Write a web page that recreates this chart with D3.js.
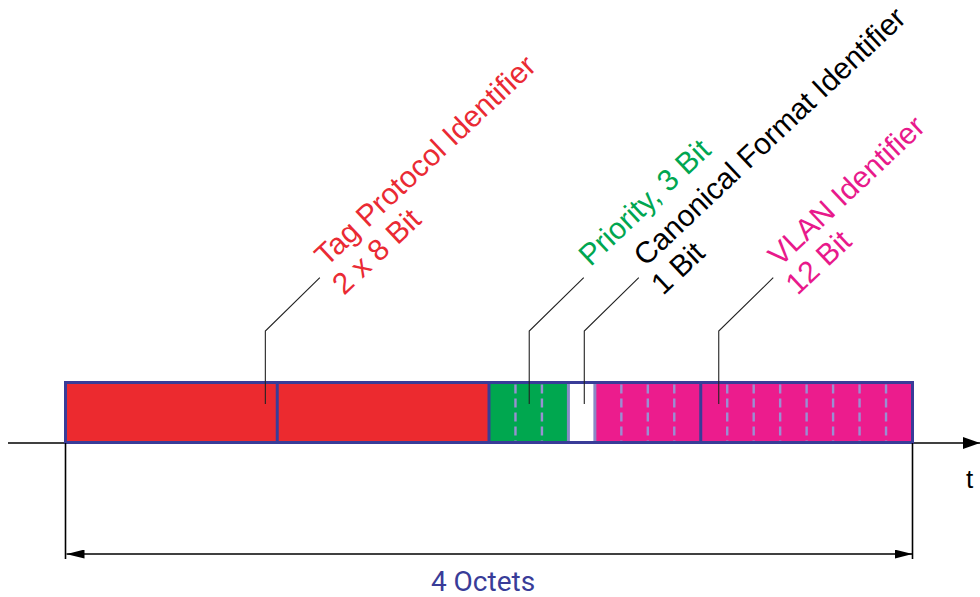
<!DOCTYPE html>
<html>
<head>
<meta charset="utf-8">
<script src="https://cdn.jsdelivr.net/npm/d3@7"></script>
<style>
  body { margin: 0; background: #fff; }
  svg { display: block; font-family: "Liberation Sans", Arial, Helvetica, sans-serif; }
</style>
</head>
<body>
<svg width="980" height="597"></svg>
<script>
// fields of the 802.1Q tag, in bits
const fieldNames = ["TPID", "Priority", "CFI", "VLAN ID"];
const fieldStart = [0, 16, 19, 20];
const fieldBits = [16, 3, 1, 12];
const fieldColors = ["#ec2a2f", "#00a74f", "#ffffff", "#ec1c8d"];

// bit boundaries drawn as solid dividers
const octetDividers = [8, 16, 24];
const fieldDividers = [19, 20];
// bit boundaries drawn as dashed lines
const bitTicks = [17, 18, 21, 22, 23, 25, 26, 27, 28, 29, 30, 31];

// callout labels
const labelLine1 = ["Tag Protocol Identifier", "Priority, 3 Bit", "Canonical Format Identifier", "VLAN Identifier"];
const labelLine2 = ["2 x 8 Bit", "", "1 Bit", "12 Bit"];
const labelColors = ["#ea2a33", "#00a651", "#000000", "#e8198b"];
const leaderBits = [7.55, 17.52, 19.6, 24.68];

const totalBits = 32;
const widthLabel = "4 Octets";

const svg = d3.select("svg");
const blue = "#393c98";

const x = d3.scaleLinear().domain([0, totalBits]).range([65.5, 912.5]);
const barTop = 382.5, barBottom = 442.5, axisY = 443;

// arrow markers
const defs = svg.append("defs");
function marker(id, len, half) {
    defs.append("marker")
        .attr("id", id)
        .attr("viewBox", `0 ${-half} ${len} ${2 * half}`)
        .attr("refX", len).attr("refY", 0)
        .attr("markerWidth", len).attr("markerHeight", 2 * half)
        .attr("markerUnits", "userSpaceOnUse")
        .attr("orient", "auto-start-reverse")
        .append("path")
        .attr("d", `M0,${-half}L${len},0L0,${half}Z`)
        .attr("fill", "#000");
}
marker("axisArrow", 17, 6);
marker("dimArrow", 18, 4.5);

// time axis
svg.append("line")
    .attr("x1", 8).attr("x2", 980)
    .attr("y1", axisY).attr("y2", axisY)
    .attr("stroke", "#000").attr("stroke-width", 1.6)
    .attr("marker-end", "url(#axisArrow)");

svg.append("text")
    .attr("x", 966).attr("y", 488)
    .attr("font-size", 26)
    .text("t");

// field blocks
svg.selectAll("rect.field")
    .data(fieldNames)
    .join("rect")
    .attr("class", "field")
    .attr("x", (d, i) => x(fieldStart[i]))
    .attr("y", barTop)
    .attr("width", (d, i) => x(fieldStart[i] + fieldBits[i]) - x(fieldStart[i]))
    .attr("height", barBottom - barTop)
    .attr("fill", (d, i) => fieldColors[i]);

// dashed bit boundaries
svg.selectAll("line.bit")
    .data(bitTicks)
    .join("line")
    .attr("class", "bit")
    .attr("x1", d => x(d)).attr("x2", d => x(d))
    .attr("y1", barTop + 2).attr("y2", barBottom - 1.5)
    .attr("stroke", "#9a8fd2")
    .attr("stroke-width", 2.4)
    .attr("stroke-dasharray", "9,5");

// light dividers round the CFI bit
svg.selectAll("line.fdiv")
    .data(fieldDividers)
    .join("line")
    .attr("class", "fdiv")
    .attr("x1", d => x(d)).attr("x2", d => x(d))
    .attr("y1", barTop).attr("y2", barBottom)
    .attr("stroke", "#8a89c6")
    .attr("stroke-width", 3);

// octet dividers
svg.selectAll("line.odiv")
    .data(octetDividers)
    .join("line")
    .attr("class", "odiv")
    .attr("x1", d => x(d)).attr("x2", d => x(d))
    .attr("y1", barTop).attr("y2", barBottom)
    .attr("stroke", blue)
    .attr("stroke-width", 3);

// outline
svg.append("rect")
    .attr("x", x(0)).attr("y", barTop)
    .attr("width", x(totalBits) - x(0))
    .attr("height", barBottom - barTop)
    .attr("fill", "none")
    .attr("stroke", blue)
    .attr("stroke-width", 3);

// leaders and labels
const leaderBottom = 404, leaderKnee = 331, leaderDx = 54.5, leaderTop = 277.7;
const angle = -43.3;

leaderBits.forEach((b, i) => {
    const lx = x(b);
    svg.append("path")
        .attr("d", `M${lx},${leaderBottom}V${leaderKnee}L${lx + leaderDx},${leaderTop}`)
        .attr("fill", "none")
        .attr("stroke", "#222")
        .attr("stroke-width", 1.1);

    const g = svg.append("g")
        .attr("transform", `translate(${lx + leaderDx},${leaderTop}) rotate(${angle})`)
        .attr("fill", labelColors[i])
        .attr("font-size", 30);
    g.append("text").attr("x", 12).attr("y", -3).text(labelLine1[i]);
    if (labelLine2[i]) g.append("text").attr("x", 5).attr("y", 30).text(labelLine2[i]);
});

// width dimension
const dimY = 554;
svg.selectAll("line.ext")
    .data([0, totalBits])
    .join("line")
    .attr("class", "ext")
    .attr("x1", d => x(d)).attr("x2", d => x(d))
    .attr("y1", axisY).attr("y2", 559)
    .attr("stroke", "#000").attr("stroke-width", 1.6);

svg.append("line")
    .attr("x1", x(0) + 1).attr("x2", x(totalBits))
    .attr("y1", dimY).attr("y2", dimY)
    .attr("stroke", "#000").attr("stroke-width", 1.6)
    .attr("marker-start", "url(#dimArrow)")
    .attr("marker-end", "url(#dimArrow)");

svg.append("text")
    .attr("x", 483).attr("y", 591)
    .attr("text-anchor", "middle")
    .attr("font-family", "Roboto, 'Liberation Sans', Arial, sans-serif")
    .attr("font-size", 28)
    .attr("fill", blue)
    .text(widthLabel);
</script>
</body>
</html>
